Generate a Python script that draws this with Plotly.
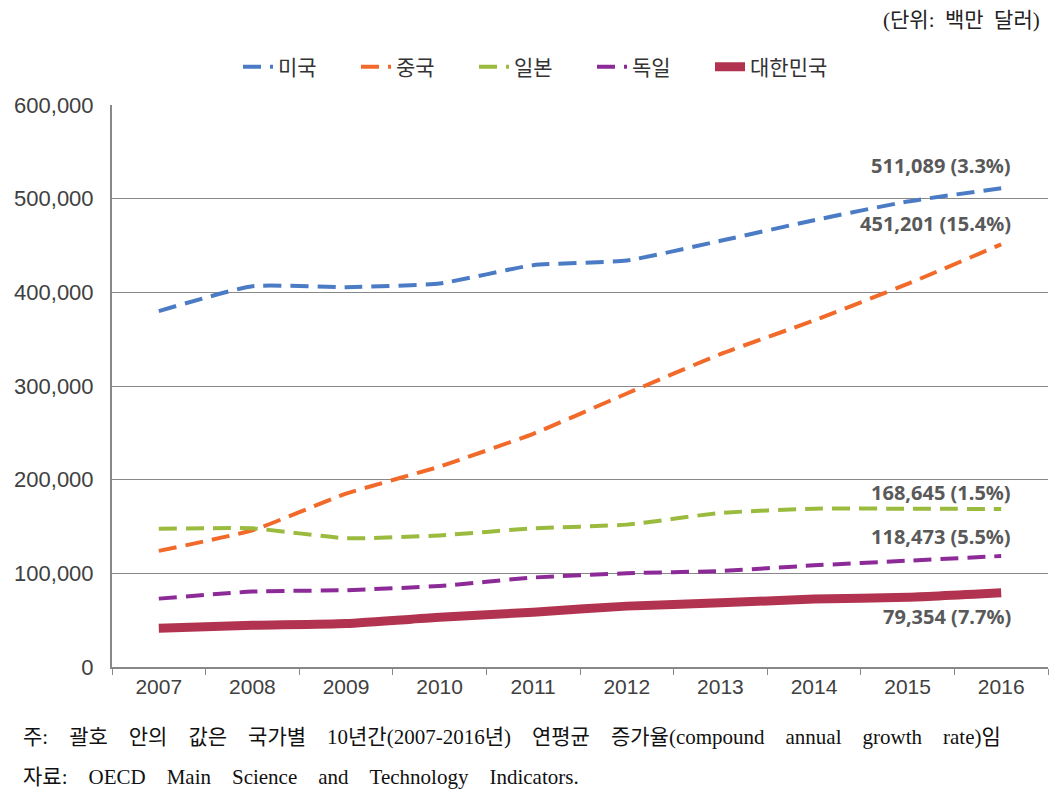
import plotly.graph_objects as go

years = ["2007", "2008", "2009", "2010", "2011", "2012", "2013", "2014", "2015", "2016"]
usa = [380000, 406500, 405500, 409500, 429000, 434000, 455000, 477000, 497000, 511089]
china = [124000, 146000, 185000, 214000, 249000, 292000, 334000, 370000, 409000, 451201]
japan = [147500, 148000, 137500, 140500, 148000, 152000, 164500, 169000, 169000, 168645]
germany = [73000, 80500, 82000, 86500, 95500, 100000, 102500, 108500, 113500, 118473]
korea = [41500, 44500, 46500, 53000, 58500, 65000, 68500, 72500, 74500, 79354]

names = ["미국", "중국", "일본", "독일", "대한민국"]
colors = ["#4a7bc4", "#f26a2a", "#9bbb3f", "#8c2a98", "#b2334f"]
end_labels = ["511,089 (3.3%)", "451,201 (15.4%)", "168,645 (1.5%)", "118,473 (5.5%)", "79,354 (7.7%)"]
label_offsets = [24500, 22000, 18000, 21000, -25000]

unit_words = ["(단위:", "백만", "달러)"]
note_words = ["주:", "괄호", "안의", "값은", "국가별", "10년간(2007-2016년)", "연평균",
              "증가율(compound", "annual", "growth", "rate)임"]
source_words = ["자료:", "OECD", "Main", "Science", "and", "Technology", "Indicators."]

series = [usa, china, japan, germany, korea]

W, H = 1050, 785
GAP = " " + "&nbsp;" * 3

fig = go.Figure()
for i, (nm, vals, col) in enumerate(zip(names, series, colors)):
    is_kr = nm == "대한민국"
    fig.add_trace(go.Scatter(
        x=years, y=vals, name=nm, mode="lines",
        line=dict(color=col, width=9 if is_kr else 4, dash="solid" if is_kr else "18px,9px",
                  shape="spline", smoothing=0.5),
    ))

last_idx = len(years) - 1
for vals, lab, off in zip(series, end_labels, label_offsets):
    fig.add_annotation(x=last_idx, y=vals[-1] + off, text="<b>" + lab + "</b>",
                       showarrow=False, xanchor="right", xshift=12,
                       font=dict(size=20, color="#595959", family="Noto Sans, Liberation Sans"))

fig.add_annotation(xref="paper", yref="paper", x=1.0, y=1.0, yshift=85, xshift=-6,
                   text=(" &nbsp;").join(unit_words), showarrow=False,
                   xanchor="right", yanchor="middle",
                   font=dict(size=21, color="#222", family="Liberation Serif, Noto Sans CJK KR"))

fig.add_annotation(xref="paper", yref="paper", x=-0.097, y=0, yshift=-70,
                   text=GAP.join(note_words),
                   showarrow=False, xanchor="left", yanchor="middle",
                   font=dict(size=21, color="#111", family="Liberation Serif, Noto Sans CJK KR"))
fig.add_annotation(xref="paper", yref="paper", x=-0.097, y=0, yshift=-110,
                   text=GAP.join(source_words),
                   showarrow=False, xanchor="left", yanchor="middle",
                   font=dict(size=21, color="#111", family="Liberation Serif, Noto Sans CJK KR"))

fig.update_layout(
    width=W, height=H,
    margin=dict(l=104, r=10, t=97, b=126, autoexpand=False),
    paper_bgcolor="white", plot_bgcolor="white",
    font=dict(family="Liberation Sans, Arial, Noto Sans CJK KR", color="#404040"),
    showlegend=True,
    legend=dict(orientation="h", x=0.5, xanchor="center", xref="container",
                y=1 - 59 / H, yanchor="middle", yref="container",
                font=dict(size=21, color="#333", family="Noto Sans CJK KR"),
                entrywidth=73, entrywidthmode="pixels",
                bgcolor="rgba(0,0,0,0)"),
)

fig.update_xaxes(type="category", range=[-0.5, len(years) - 0.5], showline=True,
                 linecolor="#888", linewidth=2,
                 ticks="outside", tickson="boundaries", ticklen=6, tickcolor="#888",
                 showgrid=False, tickfont=dict(size=21, color="#404040"))
fig.update_yaxes(range=[0, 600000], dtick=100000, tickformat=",", showline=True,
                 linecolor="#888", linewidth=2, showgrid=True, gridcolor="#888", gridwidth=1,
                 zeroline=False, ticks="", ticklabelstandoff=12,
                 tickfont=dict(size=22, color="#404040"))

fig.write_html("out.html")
